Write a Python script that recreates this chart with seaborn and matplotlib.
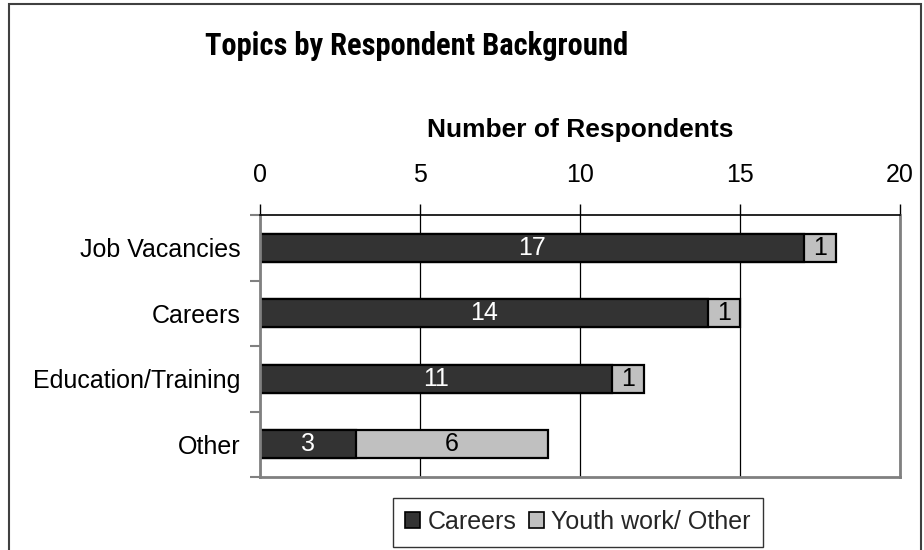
import matplotlib
matplotlib.use("Agg")
import matplotlib.pyplot as plt
from matplotlib import font_manager
from matplotlib.patches import Rectangle, Patch
import seaborn as sns
import pandas as pd

# Survey data
topics = ["Job Vacancies", "Careers", "Education/Training", "Other"]
careers = [17, 14, 11, 3]
youth_other = [1, 1, 1, 6]
series_names = ["Careers", "Youth work/ Other"]
x_ticks = [0, 5, 10, 15, 20]

DARK = "#333333"
LIGHT = "#c0c0c0"
GRAY = "#808080"

sns.set_theme(style="white")
plt.rcParams["font.family"] = ["Liberation Sans", "DejaVu Sans"]

available = {f.name for f in font_manager.fontManager.ttflist}
title_family = next((f for f in ["Roboto Condensed", "PT Sans Narrow", "Liberation Sans"]
                     if f in available), "DejaVu Sans")

df = pd.DataFrame({
    "topic": topics,
    "careers": careers,
    "total": [c + o for c, o in zip(careers, youth_other)],
})

fig = plt.figure(figsize=(9.24, 5.5), dpi=100)
ax = fig.add_axes([260 / 924, 1 - 477 / 550, 640 / 924, 262 / 550])

# Stacked horizontal bars: full total in light grey, careers share in dark on top
sns.barplot(data=df, x="total", y="topic", orient="h", color=LIGHT,
            width=0.43, edgecolor="black", linewidth=1.6, saturation=1, ax=ax)
sns.barplot(data=df, x="careers", y="topic", orient="h", color=DARK,
            width=0.43, edgecolor="black", linewidth=1.6, saturation=1, ax=ax)

# Value labels inside each segment
for i, (c, o) in enumerate(zip(careers, youth_other)):
    ax.text(c / 2, i, str(c), ha="center", va="center", color="white", fontsize=18)
    ax.text(c + o / 2, i, str(o), ha="center", va="center", color="black", fontsize=18)

ax.set_xlim(0, 20)
ax.set_ylim(len(topics) - 0.5, -0.5)
ax.set_xticks(x_ticks)
ax.xaxis.tick_top()
ax.xaxis.set_label_position("top")
ax.tick_params(axis="x", which="major", top=True, bottom=False, length=8, width=1,
               color="black", labelsize=18, pad=12, labelcolor="black")
ax.set_xlabel("Number of Respondents", fontsize=19, fontweight="bold", color="black")
ax.xaxis.set_label_coords(0.5, 1.28)
ax.xaxis.label.set_va("bottom")

ax.set_ylabel("")
ax.set_yticks(range(len(topics)))
ax.set_yticklabels(topics)
ax.set_yticks([i - 0.5 for i in range(len(topics) + 1)], minor=True)
ax.tick_params(axis="y", which="major", left=True, length=0, labelsize=18, pad=14,
               labelcolor="black")
ax.tick_params(axis="y", which="minor", left=True, length=7, width=1.5, color=GRAY)

ax.grid(axis="x", color="black", linewidth=0.9)
ax.grid(axis="y", visible=False)
ax.set_axisbelow(True)

for side in ["left", "bottom", "right"]:
    ax.spines[side].set_visible(True)
    ax.spines[side].set_color(GRAY)
    ax.spines[side].set_linewidth(2)
ax.spines["top"].set_visible(True)
ax.spines["top"].set_color("black")
ax.spines["top"].set_linewidth(1.2)

# Chart title
fig.text(417 / 924, 1 - 55 / 550, "Topics by Respondent Background",
         ha="center", va="baseline", fontsize=22, fontweight="bold",
         family=[title_family, "DejaVu Sans"], color="black")

# Legend below the plot
handles = [Patch(facecolor=DARK, edgecolor="black", linewidth=1.2),
           Patch(facecolor=LIGHT, edgecolor="black", linewidth=1.2)]
leg = fig.legend(handles, series_names, loc="center", ncol=2,
                 bbox_to_anchor=(578 / 924, 1 - 522 / 550), fontsize=18,
                 frameon=True, fancybox=False, edgecolor="black",
                 handlelength=0.6, handleheight=0.6, handletextpad=0.3,
                 columnspacing=0.5, borderpad=0.5, borderaxespad=0)
leg.get_frame().set_linewidth(1.0)

# Outer chart border
fig.patches.append(Rectangle((9 / 924, -0.1), 912 / 924, (546 / 550) + 0.1,
                             transform=fig.transFigure, fill=False,
                             edgecolor="#404040", linewidth=1.5))

fig.savefig("out.png", dpi=100)
